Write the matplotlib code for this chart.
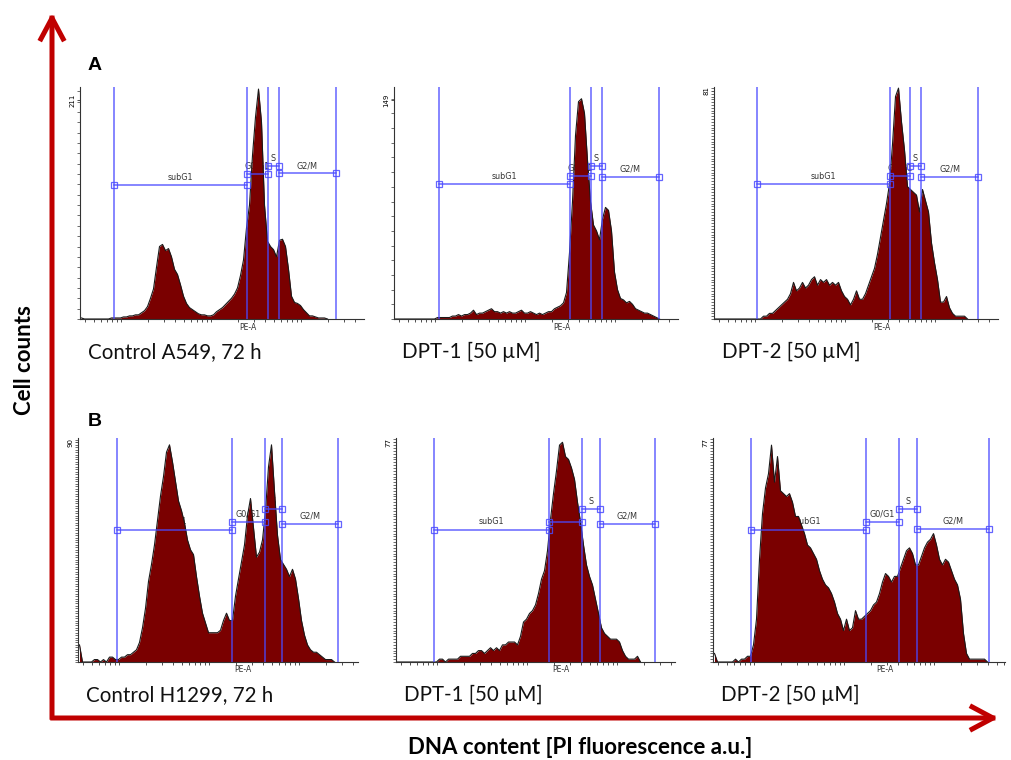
import numpy as np
import matplotlib
matplotlib.use('Agg')
import matplotlib.pyplot as plt
from matplotlib.patches import FancyArrowPatch
from matplotlib.ticker import FixedLocator, MultipleLocator, NullFormatter
import matplotlib.transforms as mtransforms

# counts per PE-A channel bin (one bin = 1/30 decade, bin 0 at the axis origin)
a549_control = [1, 0, 0, 0, 0, 0, 0, 0, 0, 0,
                1, 1, 1, 1, 2, 2, 3, 3, 4, 4,
                6, 8, 12, 20, 29, 50, 70, 72, 66, 68,
                60, 48, 43, 33, 22, 15, 11, 9, 7, 5,
                4, 4, 3, 3, 4, 7, 9, 11, 14, 17,
                20, 24, 30, 42, 57, 88, 110, 158, 195, 222,
                190, 110, 75, 70, 67, 60, 76, 77, 70, 48,
                22, 16, 15, 13, 9, 6, 3, 3, 2, 1,
                1, 1, 0]
a549_dpt1 = [0, 0, 0, 0, 0, 0, 0, 0, 0, 0,
             0, 0, 0, 0, 1, 1, 1, 1, 1, 2,
             2, 3, 2, 3, 3, 4, 6, 3, 4, 4,
             5, 6, 7, 5, 5, 4, 5, 4, 5, 4,
             4, 5, 6, 4, 4, 5, 4, 3, 4, 3,
             4, 5, 5, 7, 8, 9, 11, 18, 45, 80,
             125, 148, 150, 140, 108, 80, 64, 60, 54, 68,
             76, 74, 60, 32, 20, 14, 13, 11, 12, 10,
             7, 6, 5, 4, 4, 3, 2, 1, 0]
a549_dpt2 = [0, 0, 0, 0, 0, 0, 0, 0, 0, 0,
             0, 0, 0, 0, 0, 0, 1, 1, 2, 2,
             3, 4, 5, 6, 7, 9, 13, 10, 11, 13,
             11, 12, 14, 15, 12, 14, 13, 14, 12, 13,
             12, 13, 10, 8, 7, 5, 7, 10, 7, 7,
             9, 12, 15, 18, 23, 29, 35, 41, 48, 62,
             79, 82, 70, 60, 47, 46, 45, 44, 38, 46,
             42, 38, 27, 20, 14, 6, 6, 8, 4, 2,
             1, 1, 1, 1, 0]
h1299_control = [7, 0, 0, 0, 0, 1, 1, 0, 1, 0,
                 2, 2, 1, 1, 2, 2, 3, 3, 4, 5,
                 8, 14, 22, 33, 40, 48, 58, 68, 76, 86,
                 89, 82, 74, 66, 62, 57, 50, 46, 44, 35,
                 27, 20, 16, 12, 12, 12, 12, 13, 17, 20,
                 17, 17, 27, 34, 41, 48, 60, 67, 55, 43,
                 45, 50, 62, 80, 89, 70, 52, 42, 40, 38,
                 35, 38, 34, 26, 17, 11, 7, 5, 4, 4,
                 3, 2, 1, 1, 1, 0]
h1299_dpt1 = [0, 0, 0, 0, 0, 0, 0, 0, 0, 0,
              0, 0, 0, 0, 1, 1, 0, 1, 1, 1,
              1, 2, 2, 2, 2, 3, 3, 4, 4, 3,
              4, 5, 4, 5, 4, 6, 6, 7, 7, 7,
              6, 9, 14, 15, 17, 18, 20, 24, 29, 32,
              39, 50, 59, 67, 76, 77, 72, 71, 68, 64,
              56, 49, 41, 34, 30, 27, 22, 17, 12, 10,
              9, 8, 8, 8, 7, 4, 2, 1, 1, 1,
              2, 0]
h1299_dpt2 = [3, 0, 0, 0, 0, 0, 0, 1, 0, 1,
              1, 2, 2, 6, 15, 36, 52, 61, 66, 76,
              63, 72, 60, 59, 58, 59, 56, 51, 51, 48,
              45, 41, 40, 38, 36, 32, 29, 27, 26, 24,
              21, 17, 15, 11, 15, 11, 12, 18, 15, 15,
              16, 17, 18, 20, 21, 24, 28, 31, 30, 28,
              30, 30, 33, 36, 39, 40, 38, 34, 34, 37,
              40, 42, 43, 45, 41, 36, 34, 36, 35, 32,
              29, 27, 22, 10, 3, 1, 1, 1, 1, 1,
              1, 0]

# gate boundaries, log10(PE-A): subG1 | G0/G1 | S | G2/M
gates_a549_control = [1.92, 3.40, 3.63, 3.75, 4.39]
gates_a549_dpt1 = [2.04, 3.50, 3.73, 3.85, 4.49]
gates_a549_dpt2 = [2.02, 3.50, 3.72, 3.84, 4.48]
gates_h1299_control = [1.98, 3.25, 3.62, 3.81, 4.43]
gates_h1299_dpt1 = [1.97, 3.24, 3.61, 3.81, 4.42]
gates_h1299_dpt2 = [1.96, 3.24, 3.61, 3.81, 4.61]
gate_names = ['subG1', 'G0/G1', 'S', 'G2/M']

# top count shown on each y axis
y_top_labels = [211, 149, 81, 90, 77, 77]
captions = ['Control A549, 72 h', 'DPT-1 [50 \u00b5M]', 'DPT-2 [50 \u00b5M]',
            'Control H1299, 72 h', 'DPT-1 [50 \u00b5M]', 'DPT-2 [50 \u00b5M]']

counts_all = [a549_control, a549_dpt1, a549_dpt2,
              h1299_control, h1299_dpt1, h1299_dpt2]
gates_all = [gates_a549_control, gates_a549_dpt1, gates_a549_dpt2,
             gates_h1299_control, gates_h1299_dpt1, gates_h1299_dpt2]

# layout (pixels): left, top, bottom, width of each plot frame
W, H = 1011, 760
frames = [(80, 87, 319, 284), (394, 87, 319, 284), (714, 87, 319, 284),
          (78, 438, 662, 280), (396, 438, 662, 279), (713, 438, 662, 292)]
ylims = [224, 158, 82.4, 91.8, 78.5, 78.5]
ystep = [10, 10, 1, 1, 1, 1]
gate_y = [[0.577, 0.625, 0.660, 0.628],
          [0.582, 0.616, 0.660, 0.613],
          [0.582, 0.617, 0.660, 0.613],
          [0.591, 0.624, 0.683, 0.618],
          [0.591, 0.625, 0.683, 0.618],
          [0.591, 0.624, 0.683, 0.594]]

x0 = 1.543          # log10 value at the y axis
bin_w = 1 / 30.0    # bin width in decades
px_per_dec = 90.0

fill_col = '#7a0000'
gate_col = '#4a4aff'

plt.rcParams['font.family'] = ['DejaVu Sans']
fig = plt.figure(figsize=(W / 100, H / 100), dpi=100)

for k in range(6):
    L, T, B, Wd = frames[k]
    ax = fig.add_axes([L / W, 1 - B / H, Wd / W, (B - T) / H])
    counts = np.array(counts_all[k], dtype=float)
    centers = x0 + (np.arange(len(counts)) + 0.5) * bin_w
    ax.fill_between(centers, counts, 0, color=fill_col, lw=0, zorder=2)
    ax.plot(centers, counts, color='#1a1a1a', lw=0.8, zorder=2.1)

    xmax = x0 + Wd / px_per_dec
    ax.set_xlim(x0, xmax)
    ax.set_ylim(0, ylims[k])

    # gates
    g = gates_all[k]
    tr = mtransforms.blended_transform_factory(ax.transData, ax.transAxes)
    for xv in g:
        ax.plot([xv, xv], [0, 1], transform=tr, color=gate_col, lw=1.1,
                alpha=0.85, zorder=3, solid_capstyle='butt')
    for j, name in enumerate(gate_names):
        xa, xb = g[j], g[j + 1]
        yy = gate_y[k][j]
        ax.plot([xa, xb], [yy, yy], transform=tr, color=gate_col, lw=1.1,
                alpha=0.85, zorder=3, marker='s', ms=3.8, mfc='none',
                mec=gate_col, mew=0.9)
        ax.annotate(name, ((xa + xb) / 2, yy), xycoords=tr, xytext=(0, 5.6),
                    textcoords='offset points', ha='center', va='center',
                    fontsize=5.8, color='#333333', zorder=1)

    # axes styling
    for s in ['top', 'right']:
        ax.spines[s].set_visible(False)
    for s in ['left', 'bottom']:
        ax.spines[s].set_color('#333333')
        ax.spines[s].set_linewidth(0.8)
    dec = [d + np.log10(m) for d in range(1, 6) for m in range(1, 10)]
    dec = [v for v in dec if x0 <= v <= xmax]
    ax.xaxis.set_major_locator(FixedLocator(dec))
    ax.xaxis.set_major_formatter(NullFormatter())
    ax.tick_params(axis='x', length=2.2, width=0.6, color='#333333')
    ax.set_yticks([y_top_labels[k]])
    ax.set_yticklabels([str(y_top_labels[k])])
    ax.yaxis.set_minor_locator(MultipleLocator(ystep[k]))
    ax.tick_params(axis='y', which='major', length=2.5, width=0.6,
                   labelsize=5, labelrotation=90, pad=1, color='#333333')
    ax.tick_params(axis='y', which='minor', length=2, width=0.5,
                   color='#333333')
    for lab in ax.get_yticklabels():
        lab.set_va('center')

    ax.text(0.59, -0.035, 'PE-A', transform=ax.transAxes, ha='center',
            va='center', fontsize=5.5, color='#333333')
    ax.annotate(captions[k], (0, 0), xycoords='axes fraction',
                xytext=(6, -24), textcoords='offset points', ha='left',
                va='center', fontsize=14.8, family='Lato', color='#111111')

# panel letters
fig.text(95 / W, 1 - 66 / H, 'A', fontsize=14, fontweight='bold',
         family='Liberation Sans', ha='center', va='center')
fig.text(95 / W, 1 - 421 / H, 'B', fontsize=14, fontweight='bold',
         family='Liberation Sans', ha='center', va='center')

# axis labels
fig.text(25 / W, 1 - 360 / H, 'Cell counts', rotation=90, fontsize=16,
         fontweight='bold', family='Lato', ha='center', va='center')
fig.text(580 / W, 1 - 748 / H, 'DNA content [PI fluorescence a.u.]',
         fontsize=16, fontweight='bold', family='Lato', ha='center',
         va='center')

# red arrows
red = '#c00000'
arr_v = FancyArrowPatch((52 / W, 1 - 720 / H), (52 / W, 1 - 10 / H),
                        transform=fig.transFigure, arrowstyle='->,head_length=15,head_width=8',
                        mutation_scale=1, lw=3.6, color=red, capstyle='projecting')
arr_h = FancyArrowPatch((50 / W, 1 - 718 / H), (1001 / W, 1 - 718 / H),
                        transform=fig.transFigure, arrowstyle='->,head_length=15,head_width=8',
                        mutation_scale=1, lw=3.6, color=red, capstyle='projecting')
fig.add_artist(arr_v)
fig.add_artist(arr_h)

fig.savefig('out.png', dpi=100)
